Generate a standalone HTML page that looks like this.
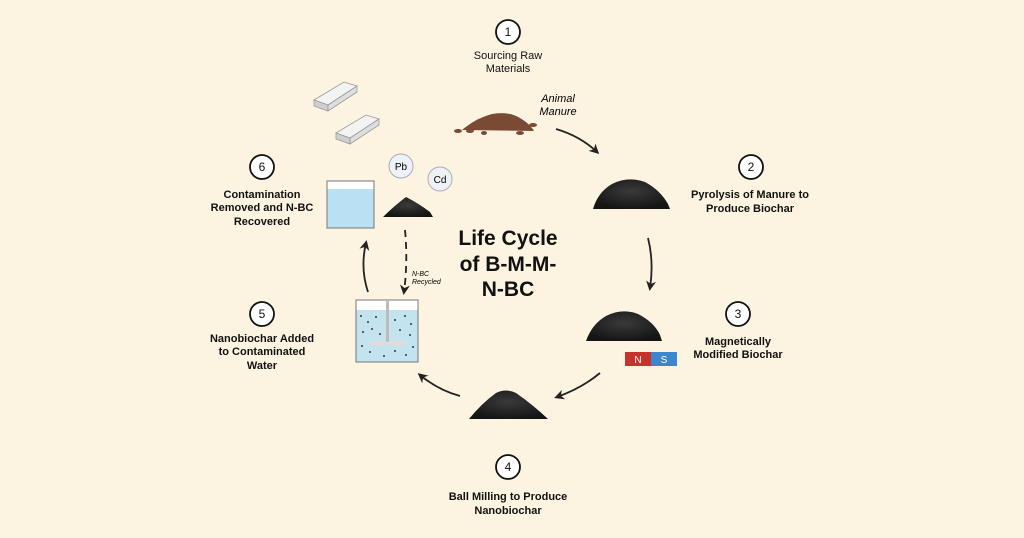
<!DOCTYPE html>
<html><head><meta charset="utf-8"><style>
body{margin:0;background:#fdf3e1;}
svg{display:block;font-family:"Liberation Sans",sans-serif;}
</style></head><body>
<svg width="1024" height="538" viewBox="0 0 1024 538" xmlns="http://www.w3.org/2000/svg">
<defs>
<marker id="ah" markerWidth="10" markerHeight="10" refX="7" refY="5" orient="auto" markerUnits="userSpaceOnUse"><path d="M0,0 L10,5 L0,10 L3,5 Z" fill="#222"/></marker>
<radialGradient id="coal" cx="50%" cy="40%" r="60%"><stop offset="0" stop-color="#3a3a3a"/><stop offset="1" stop-color="#151515"/></radialGradient>
</defs>
<rect width="1024" height="538" fill="#fdf3e1"/>
<g fill="#fff" stroke="#111" stroke-width="1.8">
<circle cx="508" cy="32" r="12"/><circle cx="751" cy="167" r="12"/><circle cx="738" cy="314" r="12"/>
<circle cx="508" cy="467" r="12"/><circle cx="262" cy="314" r="12"/><circle cx="262" cy="167" r="12"/>
</g>
<g font-size="12" text-anchor="middle" fill="#111">
<text x="508" y="36">1</text><text x="751" y="171">2</text><text x="738" y="318">3</text>
<text x="508" y="471">4</text><text x="262" y="318">5</text><text x="262" y="171">6</text>
</g>
<g font-size="11" text-anchor="middle" fill="#111">
<text x="508" y="59">Sourcing Raw</text><text x="508" y="72">Materials</text>
<g font-weight="bold">
<text x="750" y="198">Pyrolysis of Manure to</text><text x="750" y="212">Produce Biochar</text>
<text x="738" y="345">Magnetically</text><text x="738" y="358">Modified Biochar</text>
<text x="508" y="500">Ball Milling to Produce</text><text x="508" y="514">Nanobiochar</text>
<text x="262" y="342">Nanobiochar Added</text><text x="262" y="355">to Contaminated</text><text x="262" y="369">Water</text>
<text x="262" y="198">Contamination</text><text x="262" y="211">Removed and N-BC</text><text x="262" y="225">Recovered</text>
</g></g>
<g font-size="21" font-weight="bold" text-anchor="middle" fill="#111">
<text x="508" y="245">Life Cycle</text><text x="508" y="271">of B-M-M-</text><text x="508" y="296">N-BC</text>
</g>
<text x="558" y="102" font-size="11" font-style="italic" text-anchor="middle">Animal</text>
<text x="558" y="115" font-size="11" font-style="italic" text-anchor="middle">Manure</text>
<text x="412" y="276" font-size="7" font-style="italic">N-BC</text>
<text x="412" y="284" font-size="7" font-style="italic">Recycled</text>
<g fill="none" stroke="#222" stroke-width="1.8" marker-end="url(#ah)">
<path d="M556,129 Q580,136 597,152"/>
<path d="M648,238 Q654,262 650,288"/>
<path d="M600,373 Q582,388 557,397"/>
<path d="M460,396 Q438,390 420,375"/>
<path d="M368,292 Q360,268 366,243"/>
<path d="M405,230 Q408,262 404,292" stroke-dasharray="7,5"/>
</g>
<path d="M462,130 Q476,118 492,114 Q508,111 520,118 Q530,124 534,131 Z" fill="#7a4a35"/>
<g fill="#7a4a35"><ellipse cx="458" cy="131" rx="4" ry="2"/><ellipse cx="470" cy="131" rx="4" ry="2"/><ellipse cx="520" cy="133" rx="4" ry="2"/><ellipse cx="533" cy="125" rx="4" ry="2"/><ellipse cx="484" cy="133" rx="3" ry="2"/></g>
<path d="M593,209 Q598,192 612,184 Q628,176 645,182 Q660,190 668,204 L670,209 Z" fill="url(#coal)"/>
<path d="M586,341 Q592,324 606,316 Q622,308 638,314 Q654,322 660,335 L662,341 Z" fill="url(#coal)"/>
<path d="M469,419 Q482,403 496,393 Q506,388 516,393 Q532,404 548,419 Z" fill="url(#coal)"/>
<path d="M383,217 Q394,206 406,197 Q418,203 430,212 L433,217 Z" fill="url(#coal)"/>
<rect x="625" y="352" width="26" height="14" fill="#c8322c"/><rect x="651" y="352" width="26" height="14" fill="#3a86cf"/>
<text x="638" y="363" font-size="10" fill="#fff" text-anchor="middle">N</text>
<text x="664" y="363" font-size="10" fill="#fff" text-anchor="middle">S</text>
<g stroke="#999" stroke-width="0.8">
<path d="M314,100 L344,82 L357,86 L328,105 Z" fill="#f3f3f3"/><path d="M314,100 L328,105 L328,111 L314,106 Z" fill="#cfcfcf"/><path d="M328,105 L357,86 L357,92 L328,111 Z" fill="#dedede"/>
<path d="M336,133 L366,115 L379,119 L350,138 Z" fill="#f3f3f3"/><path d="M336,133 L350,138 L350,144 L336,139 Z" fill="#cfcfcf"/><path d="M350,138 L379,119 L379,125 L350,144 Z" fill="#dedede"/>
</g>
<g fill="#eef2f7" stroke="#aab" stroke-width="1"><circle cx="401" cy="166" r="12"/><circle cx="440" cy="179" r="12"/></g>
<text x="401" y="170" font-size="10" text-anchor="middle">Pb</text>
<text x="440" y="183" font-size="10" text-anchor="middle">Cd</text>
<rect x="327" y="181" width="47" height="47" fill="#fff" stroke="#777" stroke-width="1"/>
<rect x="327.5" y="189" width="46" height="38.5" fill="#b9e0f3"/>
<rect x="356" y="300" width="62" height="62" fill="#fff" stroke="#777" stroke-width="1"/>
<rect x="356.5" y="310" width="61" height="51.5" fill="#c3e3ef"/>
<rect x="386" y="300" width="3" height="44" fill="#bbb"/>
<ellipse cx="378" cy="343" rx="10" ry="3" fill="#ddd"/><ellipse cx="397" cy="343" rx="10" ry="3" fill="#ddd"/>
<g fill="#334">
<circle cx="361" cy="316" r="1"/><circle cx="368" cy="322" r="1"/><circle cx="376" cy="317" r="1"/><circle cx="395" cy="320" r="1"/><circle cx="405" cy="316" r="1"/><circle cx="411" cy="324" r="1"/>
<circle cx="363" cy="332" r="1"/><circle cx="372" cy="329" r="1"/><circle cx="380" cy="334" r="1"/><circle cx="400" cy="330" r="1"/><circle cx="410" cy="335" r="1"/>
<circle cx="362" cy="346" r="1"/><circle cx="370" cy="352" r="1"/><circle cx="384" cy="356" r="1"/><circle cx="395" cy="351" r="1"/><circle cx="406" cy="355" r="1"/><circle cx="413" cy="347" r="1"/>
</g>
</svg>
</body></html>
